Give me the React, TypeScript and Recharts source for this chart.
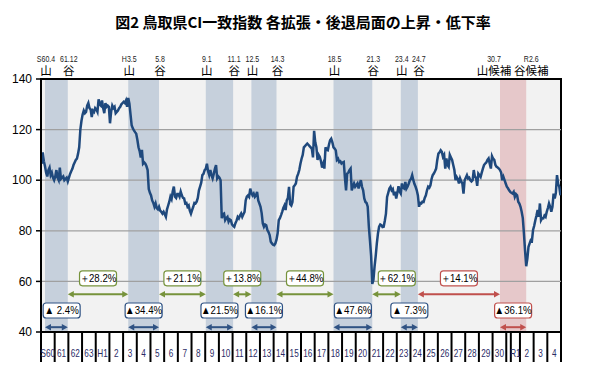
import React from "react";
import {
  LineChart,
  Line,
  XAxis,
  YAxis,
  ReferenceArea,
  ReferenceLine,
  ReferenceDot,
} from "recharts";

// 鳥取県 CI一致指数 (monthly, S60.1 - R4.12)
const ciS60toS63 = [
  106.5, 111.0, 107.5, 105.5, 103.0, 101.5, 104.0, 105.0, 102.0, 103.0, 101.0, 100.0,
  101.5, 104.0, 101.0, 100.0, 105.0, 100.5, 101.0, 101.5, 100.0, 100.5, 101.0, 99.5,
  101.0, 102.5, 103.5, 104.5, 106.0, 107.0, 108.0, 108.5, 110.5, 113.0, 120.0, 123.5,
  126.0, 127.5, 126.5, 127.0, 129.5, 130.5, 128.5, 128.0, 125.0, 127.5, 127.0, 128.5,
];
const ciH1toH10 = [
  128.0, 127.0, 132.0, 130.0, 129.5, 131.5, 128.5, 126.5, 130.5, 129.0, 129.5, 129.0,
  122.5, 127.0, 129.5, 128.5, 129.0, 126.5, 127.0, 127.5, 128.5, 129.0, 130.0, 130.5,
  131.0, 130.5, 131.5, 129.0, 132.5, 130.3, 126.0, 121.7, 120.5, 119.7, 119.0, 118.4,
  116.0, 113.0, 111.5, 109.0, 112.0, 106.5, 107.0, 106.5, 105.5, 104.0, 96.5, 95.0,
  94.0, 92.0, 91.0, 89.5, 90.8, 89.0, 88.5, 89.5, 88.0, 87.5, 86.8, 87.5,
  86.5, 85.5, 88.5, 90.0, 91.5, 93.5, 92.5, 95.5, 97.5, 93.5, 93.0, 94.5,
  94.5, 93.5, 95.5, 94.0, 93.0, 92.8, 90.8, 91.0, 89.5, 90.0, 88.0, 86.8,
  88.2, 89.5, 91.0, 90.8, 91.5, 93.0, 96.0, 97.5, 99.0, 102.0, 102.5, 104.0,
  104.5, 106.5, 103.5, 102.0, 104.0, 102.0, 100.7, 102.5, 104.5, 106.0, 100.7, 101.5,
  101.0, 100.0, 85.0, 86.5, 86.8, 84.2, 85.0, 85.5, 83.6, 84.5, 84.2, 82.5,
];
const ciH11toH20 = [
  82.0, 81.6, 83.0, 84.0, 85.5, 84.9, 86.0, 86.8, 85.5, 86.5, 87.5, 92.0,
  93.5, 94.0, 93.4, 96.7, 95.0, 94.0, 94.7, 93.4, 94.0, 95.4, 92.0, 90.8,
  89.5, 87.0, 82.9, 81.6, 82.5, 82.2, 80.3, 79.5, 78.3, 75.7, 75.0, 74.5,
  74.3, 75.0, 76.5, 79.0, 84.2, 85.0, 86.2, 87.5, 89.0, 90.0, 88.2, 92.0,
  93.0, 97.4, 90.5, 90.0, 91.4, 97.4, 98.0, 98.7, 101.3, 102.5, 104.0, 106.5,
  108.5, 110.0, 113.0, 113.5, 114.0, 114.5, 114.0, 113.5, 113.0, 112.5, 109.0, 119.5,
  115.0, 113.0, 108.0, 110.0, 109.2, 107.5, 105.0, 106.5, 104.6, 113.0, 112.0, 111.8,
  114.0, 115.8, 116.4, 115.0, 113.0, 112.5, 111.8, 108.0, 108.5, 107.2, 107.5, 106.6,
  107.0, 107.2, 101.0, 96.0, 102.6, 103.0, 104.0, 104.6, 96.0, 97.5, 98.7, 97.4,
  98.0, 98.7, 96.7, 98.5, 100.0, 97.4, 96.0, 92.8, 91.4, 91.0, 89.5, 81.6,
];
const ciH21toH30 = [
  76.0, 70.0, 59.0, 60.5, 65.8, 70.0, 75.0, 79.0, 81.6, 82.5, 82.2, 81.5,
  81.6, 84.0, 86.8, 93.4, 95.0, 96.7, 97.4, 96.0, 96.5, 94.0, 95.4, 92.8,
  95.0, 97.6, 95.5, 94.7, 98.7, 97.0, 96.7, 99.3, 96.7, 97.5, 98.7, 100.0,
  100.5, 102.0, 100.0, 98.5, 97.4, 96.0, 94.0, 89.5, 91.0, 90.8, 91.5, 91.4,
  93.0, 94.0, 96.0, 97.4, 97.0, 98.0, 100.5, 102.0, 102.6, 103.5, 104.6, 108.0,
  110.5, 111.0, 111.8, 111.2, 109.2, 110.0, 104.6, 108.6, 106.0, 105.3, 110.0, 109.0,
  108.0, 106.0, 104.0, 100.0, 101.3, 100.5, 98.7, 100.7, 99.5, 98.7, 94.7, 100.0,
  101.0, 102.0, 100.7, 101.0, 100.0, 99.5, 100.0, 104.0, 101.3, 101.0, 97.8, 102.6,
  102.0, 101.3, 103.0, 104.6, 106.0, 106.6, 107.0, 108.0, 108.6, 106.5, 104.6, 109.5,
  108.5, 108.0, 106.0, 105.3, 105.0, 104.6, 104.0, 103.0, 100.0, 101.3, 100.0, 98.7,
];
const ciR1toR4 = [
  97.4, 96.8, 96.0, 95.4, 95.0, 94.7, 95.4, 93.4, 94.5, 94.0, 91.5, 90.8,
  89.5, 87.5, 85.0, 79.0, 72.0, 66.0, 69.0, 73.7, 75.0, 76.3, 76.0, 80.3,
  82.0, 84.2, 86.0, 88.2, 85.5, 90.8, 84.2, 85.0, 84.9, 86.0, 85.5, 87.5,
  89.0, 90.8, 89.5, 87.5, 89.5, 94.7, 92.8, 95.0, 102.0, 98.5, 97.4, 94.0,
];

// 景気の山・谷 (months counted from S60.1)
const peakMonths = [3, 76, 144, 184, 256, 315, 402];
const peakLabels = ["S60.4", "H3.5", "9.1", "12.5", "18.5", "23.4", "30.7"];
const troughMonths = [23, 103, 168, 206, 290, 330, 425];
const troughLabels = ["61.12", "5.8", "11.1", "14.3", "21.3", "24.7", "R2.6"];
const fallRates = ["▲ 2.4%", "▲34.4%", "▲21.5%", "▲16.1%", "▲47.6%", "▲ 7.3%", "▲36.1%"];
const riseRates = ["＋28.2%", "＋21.1%", "＋13.8%", "＋44.8%", "＋62.1%", "＋14.1%"];

const yearLabels = [
  "S60", "61", "62", "63", "H1", "2", "3", "4", "5", "6", "7", "8", "9", "10",
  "11", "12", "13", "14", "15", "16", "17", "18", "19", "20", "21", "22", "23",
  "24", "25", "26", "27", "28", "29", "30", "R1", "2", "3", "4",
];

const yTicks = [40, 60, 80, 100, 120, 140];

const series = [...ciS60toS63, ...ciH1toH10, ...ciH11toH20, ...ciH21toH30, ...ciR1toR4];
const data = series.map((v, i) => ({ t: i + 0.5, v }));

const N = series.length; // 456
// year boundaries, plus the H31/R1 change (R1.5)
const yearTicks = [...yearLabels.map((_, i) => i * 12), N, 412].sort((a, b) => a - b);
const labelTicks = yearLabels.map((_, i) => (i === 34 ? 416 : i * 12 + 6));

const FONT = "'Liberation Sans', Arial, sans-serif";
const JP = "'Noto Sans CJK JP', sans-serif";

const NAVY = "#1f497d";
const BOXBLUE = "#2f5283";
const GREEN = "#77933c";
const RED = "#c0504d";
const BAND = "#c6d0dc";
const BAND_RED = "#e6c8ca";

// y levels for the annotations
const RISE_BOX_Y = 61.2;
const RISE_ARROW_Y = 54.9;
const FALL_BOX_Y = 48.5;
const FALL_ARROW_Y = 41.9;

// nudges (in months) where the box would hit the axis or the line
const nudge: Record<string, number> = { "▲ 2.4%": 4.6, "＋62.1%": 9 };

// condensed text (no narrow font installed)
const Narrow = ({ x, y, size, sx, fill, children }: any) => (
  <text
    transform={`translate(${x},${y}) scale(${sx},1)`}
    textAnchor="middle"
    fontSize={size}
    fontFamily={FONT}
    fill={fill}
  >
    {children}
  </text>
);

const arrowShape = (color: string) => (p: any) => {
  const { x1, y1, x2 } = p;
  const a = Math.min(x1, x2);
  const b = Math.max(x1, x2);
  const hl = 6;
  const hw = 3.3;
  return (
    <g>
      <line x1={a + hl - 1} y1={y1} x2={b - hl + 1} y2={y1} stroke={color} strokeWidth={2} />
      <polygon points={`${a},${y1} ${a + hl},${y1 - hw} ${a + hl},${y1 + hw}`} fill={color} />
      <polygon points={`${b},${y1} ${b - hl},${y1 - hw} ${b - hl},${y1 + hw}`} fill={color} />
    </g>
  );
};

const boxShape = (text: string, color: string) => (p: any) => {
  const { cx, cy } = p;
  const w = 37;
  const h = 15;
  return (
    <g>
      <rect x={cx - w / 2} y={cy - h / 2} width={w} height={h} rx={3} fill="#fff" stroke={color} strokeWidth={1.2} />
      <Narrow x={cx} y={cy + 4} size={11} sx={0.88} fill="#000">
        {text}
      </Narrow>
    </g>
  );
};

const turnLabel = (date: string, kind: string, shift: number) => (p: any) => {
  const { cx, cy } = p;
  return (
    <g>
      <Narrow x={cx + shift} y={cy - 17.5} size={9} sx={0.78} fill="#222">
        {date}
      </Narrow>
      <text x={cx + shift} y={cy - 3.6} textAnchor="middle" fontSize={11.5} fontFamily={JP} fill="#000">
        {kind}
      </text>
    </g>
  );
};

// year separators: tick line only
const SepTick = () => <g />;

const YearTick = (p: any) => {
  const { x, y, index } = p;
  return (
    <Narrow x={x} y={y - 4} size={10} sx={0.82} fill="#2b2b66">
      {yearLabels[index] ?? ""}
    </Narrow>
  );
};

export default function App() {
  const last = peakMonths.length - 1;
  return (
    <div style={{ position: "absolute", left: 0, top: 0, width: 594, height: 377, background: "#fff" }}>
      <div
        style={{
          position: "absolute",
          left: 0,
          width: 606,
          top: 13,
          textAlign: "center",
          fontFamily: JP,
          fontWeight: 700,
          fontSize: 15,
          lineHeight: "18px",
          color: "#000",
        }}
      >
        図2 鳥取県CI一致指数 各拡張・後退局面の上昇・低下率
      </div>
      <LineChart width={594} height={377} data={data} margin={{ top: 79, right: 33, left: 5, bottom: 15 }}>
        <XAxis
          dataKey="t"
          type="number"
          domain={[0, N]}
          ticks={yearTicks}
          interval={0}
          tick={<SepTick />}
          tickSize={30}
          tickMargin={0}
          height={29}
          allowDataOverflow
          axisLine={{ stroke: "#000", strokeWidth: 2 }}
          tickLine={{ stroke: "#000", strokeWidth: 2 }}
        />
        <XAxis
          xAxisId="lbl"
          dataKey="t"
          type="number"
          domain={[0, N]}
          ticks={labelTicks}
          interval={0}
          tick={<YearTick />}
          tickSize={0}
          tickMargin={0}
          height={1}
          axisLine={false}
          tickLine={false}
          allowDataOverflow
        />
        <YAxis
          type="number"
          domain={[40, 140]}
          ticks={yTicks}
          interval={0}
          width={36}
          tickSize={5}
          tickMargin={4}
          allowDataOverflow
          axisLine={{ stroke: "#000", strokeWidth: 2 }}
          tickLine={{ stroke: "#000", strokeWidth: 1.5 }}
          tick={{ fill: "#000", fontSize: 12, fontFamily: FONT }}
        />
        <ReferenceArea x1={0} x2={N} y1={40} y2={140} fill="#f2f2f2" fillOpacity={1} stroke="none" />
        {peakMonths.map((p, i) => (
          <ReferenceArea
            key={`band-${i}`}
            x1={p + 0.5}
            x2={troughMonths[i] + 0.5}
            y1={40}
            y2={140}
            fill={i === last ? BAND_RED : BAND}
            fillOpacity={1}
            stroke="none"
          />
        ))}
        {[60, 80, 100, 120].map((y) => (
          <ReferenceLine key={`g-${y}`} y={y} stroke="#a0a0a0" strokeWidth={1.2} />
        ))}
        <Line
          dataKey="v"
          type="linear"
          stroke={NAVY}
          strokeWidth={2.5}
          dot={false}
          activeDot={false}
          isAnimationActive={false}
        />
        {riseRates.map((r, i) => {
          const a = troughMonths[i] + 0.5;
          const b = peakMonths[i + 1] + 0.5;
          const color = i === riseRates.length - 1 ? RED : GREEN;
          return (
            <React.Fragment key={`rise-${i}`}>
              <ReferenceLine
                segment={[
                  { x: a, y: RISE_ARROW_Y },
                  { x: b, y: RISE_ARROW_Y },
                ]}
                shape={arrowShape(color)}
              />
              <ReferenceDot
                x={(a + b) / 2 + (nudge[r] ?? 0)}
                y={RISE_BOX_Y}
                r={1}
                ifOverflow="visible"
                shape={boxShape(r, color)}
              />
            </React.Fragment>
          );
        })}
        {fallRates.map((r, i) => {
          const a = peakMonths[i] + 0.5;
          const b = troughMonths[i] + 0.5;
          const color = i === last ? RED : BOXBLUE;
          return (
            <React.Fragment key={`fall-${i}`}>
              <ReferenceLine
                segment={[
                  { x: a, y: FALL_ARROW_Y },
                  { x: b, y: FALL_ARROW_Y },
                ]}
                shape={arrowShape(color)}
              />
              <ReferenceDot
                x={(a + b) / 2 + (nudge[r] ?? 0)}
                y={FALL_BOX_Y}
                r={1}
                ifOverflow="visible"
                shape={boxShape(r, color)}
              />
            </React.Fragment>
          );
        })}
        {peakMonths.map((p, i) => (
          <ReferenceDot
            key={`pk-${i}`}
            x={p + 0.5}
            y={140}
            r={1}
            ifOverflow="visible"
            shape={turnLabel(peakLabels[i], i === last ? "山候補" : "山", i === last ? -6 : 1)}
          />
        ))}
        {troughMonths.map((t, i) => (
          <ReferenceDot
            key={`tr-${i}`}
            x={t + 0.5}
            y={140}
            r={1}
            ifOverflow="visible"
            shape={turnLabel(troughLabels[i], i === last ? "谷候補" : "谷", i === last ? 5 : 1)}
          />
        ))}
        <ReferenceArea x1={0} x2={N} y1={40} y2={140} fill="none" stroke="#000" strokeWidth={2} ifOverflow="visible" />
      </LineChart>
    </div>
  );
}
